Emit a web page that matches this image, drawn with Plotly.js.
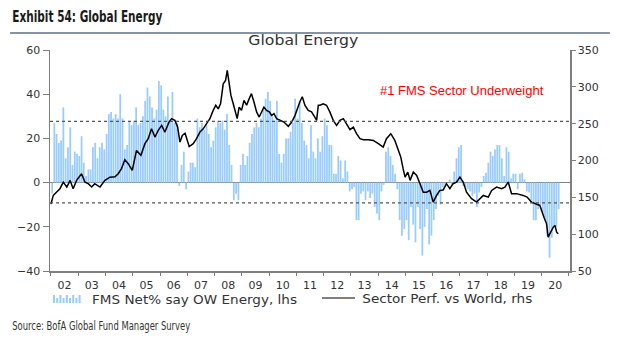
<!DOCTYPE html>
<html><head><meta charset="utf-8">
<script src="https://cdn.plot.ly/plotly-3.0.1.min.js"></script>
<style>html,body{margin:0;padding:0;background:#fff}#chart{width:619px;height:339px}</style>
</head><body><div id="chart"></div>
<script>
// FMS Net % say overweight Energy (lhs), monthly from Jan 2002
const fmsStartYear = 2002;
const fmsNet = [
  -5, 27, 22, 18, 19, 34, 11, 16, 25, 8, 14, 13,      // 2002
  12, 21, 9, 3, 6, 6, 16, 18, 11, 16, 18, 15,          // 2003
  22, 31, 32, 29, 31, 29, 40, 29, 15, 17, 28, 26,      // 2004
  28, 34, 26, 27, 30, 37, 43, 39, 34, 29, 33, 46,      // 2005
  44, 33, 30, 39, 28, 41, 27, 27, -1.5, 8, 14, -3,     // 2006
  5, 9, 9, 7, 29, 25, 27, 24, 26, 22, 16, 19,          // 2007
  25, 28, 27, 28, 24, 31, 17, 8, -8, -5, -8, 8,        // 2008
  13, 8, 12, 18, 22, 25, 27, 25, 29, 33, 38, 41,       // 2009
  37, 30, 28, 37, 13, 9, 13, 20, 20, 23, 27, 38,       // 2010
  29, 37, 27, 19, 17, 11, 26, 14, 11, 20, 14, 21,      // 2011
  29, 26, 17, 17, 4, 4, 12, 10, 2, 10, 5, -4,          // 2012
  -3, -2, -17, -17, -5, -4, -8, -4, -7, -5, -11, -14,  // 2013
  -17, -4, -1, 14, 16, 12, 8, 4, -3, -17, -24, -21,    // 2014
  -17, -26, -11, -19, -27, -11, -21, -33, -20, -12, -28, -24, // 2015
  -17, -12, -6, -10, -2, -1, 0, 1.5, -1, 5, 11, 16,    // 2016
  17, -1.5, -2, -3, -4, -6, -5, -11, -4.5, -2, 3, 4.5, // 2017
  9, 14, 12, 15, 17, 17, 11, 3, 16, 14, 2, 4,          // 2018
  4, -3, 4, 4.5, 1.5, -4, -4.5, -8, -17, -17, -12, -10,// 2019
  -14, -17, -24, -34, -25, -20, -20, -12               // 2020
];

// Sector performance vs World (rhs)
const perfDates = ['2002-01-01','2002-02-01','2002-03-15','2002-05-01','2002-06-15','2002-08-01','2002-09-15','2002-10-25','2002-12-10',
'2003-02-15','2003-04-01','2003-05-15','2003-07-01','2003-08-10','2003-10-20','2003-12-25',
'2004-03-01','2004-05-08','2004-06-20','2004-08-03','2004-09-17','2004-11-01','2004-12-25',
'2005-02-20','2005-04-20','2005-06-13','2005-07-27','2005-09-09','2005-10-25','2005-12-08',
'2006-01-23','2006-03-08','2006-05-01','2006-06-05','2006-07-19','2006-08-25','2006-09-25','2006-10-27','2006-12-03',
'2007-01-27','2007-03-22','2007-05-05','2007-06-20','2007-08-03','2007-09-17','2007-10-31','2007-12-14',
'2008-01-18','2008-02-20','2008-03-22','2008-04-27','2008-05-28','2008-06-20','2008-07-17','2008-08-08','2008-09-08','2008-10-09','2008-10-31','2008-11-26','2008-12-28',
'2009-01-30','2009-03-06','2009-04-10','2009-05-10','2009-06-12','2009-07-18','2009-08-22','2009-09-24','2009-10-24','2009-11-28',
'2010-01-04','2010-02-05','2010-03-08','2010-04-12','2010-05-27','2010-07-19','2010-09-16','2010-11-01','2010-12-15',
'2011-01-15','2011-02-18','2011-03-22','2011-04-26','2011-06-10','2011-07-24','2011-09-06','2011-09-30','2011-10-23','2011-11-14','2011-12-28',
'2012-02-10','2012-03-25','2012-05-10','2012-06-24','2012-08-08','2012-09-22','2012-11-05','2012-12-20',
'2013-02-03','2013-03-18','2013-05-03','2013-06-17','2013-08-23','2013-10-29',
'2014-01-04','2014-03-10','2014-04-23','2014-06-20','2014-08-13','2014-09-27','2014-11-01','2014-12-02','2014-12-28',
'2015-02-03','2015-03-05','2015-04-18','2015-06-02','2015-07-16','2015-08-29','2015-10-13','2015-11-26',
'2016-01-09','2016-02-23','2016-04-08','2016-05-22','2016-07-05','2016-08-19','2016-10-02','2016-11-16',
'2017-01-01','2017-02-14','2017-03-31','2017-06-06','2017-08-13','2017-09-27','2017-11-10',
'2018-01-16','2018-03-02','2018-05-08','2018-07-14','2018-08-27','2018-10-10','2018-11-24',
'2019-01-30','2019-04-28','2019-06-20','2019-08-18','2019-10-03','2019-12-08',
'2020-02-01','2020-03-07','2020-03-28','2020-05-01','2020-06-05','2020-06-28','2020-07-20','2020-08-10'];
const perfValues = [141,152.6,157,161.7,170.7,164,173,161.7,173,
182,170.7,168.5,164,168.5,164,173,
177.4,178,182,189,201,195.7,186.5,
213.7,207,222.8,229.6,243,231.8,240.9,
247.7,238.6,252,256.8,254.5,245.4,225,234,237,
219,222.8,229.6,238.6,243,250,256.8,268,
274.9,270,277,304,308.8,322.4,299.7,288.4,277,263.6,256.8,272.5,268,
281.7,275,284,290.7,279.8,266,259,266,272.5,268,
266,261.3,263.6,256.8,254.5,252.2,246.4,252.2,261.3,
270.4,279.8,286.6,275,268,266,259,254.5,275,275,277,
275,266,254.5,247.7,254.5,256.8,250,241.8,
245.4,236.4,229.6,228.2,228.2,227.3,
222.8,218.2,229.6,236.4,227.3,213.7,204.6,188.9,177.4,
184.2,173,184.2,179.8,168.5,157,157,159.4,
143.5,152.6,159.4,160,168.5,161.7,168.5,170.7,
177.4,170.7,157,148.1,143.5,148.1,152.6,
150.3,159.4,163.9,161.7,163.9,170.7,155,
155,152.6,150.3,143.5,141.3,139,
123,114,96,102.7,109.5,111.8,102.7,100.5];

// Reference levels (lhs) drawn as dotted lines
const bandLevels = [27.7, -9.2];

const titleText = 'Exhibit 54: Global Energy';
const chartTitle = 'Global Energy';
const noteText = '#1 FMS Sector Underweight';
const legendBar = 'FMS Net% say OW Energy, lhs';
const legendLine = 'Sector Perf. vs World, rhs';
const sourceText = 'Source: BofA Global Fund Manager Survey';

const fmsDates = fmsNet.map((v, i) => {
  const y = fmsStartYear + Math.floor(i / 12);
  const m = (i % 12) + 1;
  return y + '-' + String(m).padStart(2, '0') + '-01';
});

const tickFont = {family: 'DejaVu Sans, Arial, sans-serif', size: 11, color: '#333'};
const axisCol = '#7f7f7f';
const barCol = '#99CCFF';

const traces = [
  {type: 'bar', x: fmsDates, y: fmsNet, xperiod: 'M1', xperiodalignment: 'middle',
   marker: {color: barCol, line: {width: 0}}, yaxis: 'y', hoverinfo: 'skip', name: legendBar},
  {type: 'scatter', mode: 'lines', x: perfDates, y: perfValues, yaxis: 'y2',
   line: {color: '#000', width: 1.5}, hoverinfo: 'skip', name: legendLine}
];

// pixel -> paper helpers (plot area: x 50..570, y 50..271)
const px = v => (v - 50) / 520;
const py = v => (271 - v) / 221;

const shapes = bandLevels.map(l => ({type: 'line', xref: 'paper', yref: 'y', x0: 0, x1: 1, y0: l, y1: l,
  line: {color: '#555', width: 1.2, dash: 'dot'}, layer: 'above'}));
shapes.push({type: 'line', xref: 'paper', yref: 'paper', x0: px(10), x1: px(610), y0: py(33), y1: py(33),
  line: {color: '#5b6f8e', width: 1.5}});
// legend icons
for (let k = 0; k < 9; k++) {
  const x0 = 53 + k * 3.2;
  const h = (k % 2 === 0) ? 8 : 5;
  shapes.push({type: 'rect', xref: 'paper', yref: 'paper', x0: px(x0), x1: px(x0 + 2), y0: py(303), y1: py(303 - h),
    fillcolor: barCol, line: {width: 0}});
}
shapes.push({type: 'line', xref: 'paper', yref: 'paper', x0: px(322), x1: px(355), y0: py(298), y1: py(298),
  line: {color: '#000', width: 1.2}});

// target widths (px) for a few stretched / condensed texts
const textWidths = {};
textWidths[titleText] = 150;
textWidths[sourceText] = 178;
textWidths[legendBar] = 205;
textWidths[legendLine] = 170;
textWidths[chartTitle] = 110;

const condensed = 'DejaVu Sans Condensed, Liberation Sans Narrow, Arial Narrow, sans-serif';
const annotations = [
  {text: '<b>' + titleText + '</b>', xref: 'paper', yref: 'paper', x: px(12 + 75), y: py(17), xanchor: 'center', yanchor: 'middle',
   showarrow: false, font: {family: condensed, size: 15, color: '#1a1a1a'}},
  {text: chartTitle, xref: 'paper', yref: 'paper', x: px(303), y: py(40), xanchor: 'center', yanchor: 'middle',
   showarrow: false, font: {family: 'DejaVu Sans, Arial, sans-serif', size: 13.5, color: '#333'}},
  {text: noteText, xref: 'paper', yref: 'paper', x: px(462), y: py(90), xanchor: 'center', yanchor: 'middle',
   showarrow: false, font: {family: 'Liberation Sans, Arial, sans-serif', size: 13, color: '#ff0000'}},
  {text: legendBar, xref: 'paper', yref: 'paper', x: px(92 + 102.5), y: py(299), xanchor: 'center', yanchor: 'middle',
   showarrow: false, font: {family: 'DejaVu Sans, Arial, sans-serif', size: 12.5, color: '#333'}},
  {text: legendLine, xref: 'paper', yref: 'paper', x: px(362 + 85), y: py(298), xanchor: 'center', yanchor: 'middle',
   showarrow: false, font: {family: 'DejaVu Sans, Arial, sans-serif', size: 12.5, color: '#333'}},
  {text: sourceText, xref: 'paper', yref: 'paper', x: px(12 + 89), y: py(326), xanchor: 'center', yanchor: 'middle',
   showarrow: false, font: {family: condensed, size: 12, color: '#333'}}
];

const layout = {
  width: 619, height: 339,
  margin: {l: 50, r: 49, t: 50, b: 68, pad: 0},
  paper_bgcolor: '#fff', plot_bgcolor: '#fff',
  showlegend: false, bargap: 0.2,
  xaxis: {type: 'date', range: ['2001-12-19', '2021-01-15'], tick0: '2002-01-01', dtick: 'M12',
    tickformat: '%y', ticklabelmode: 'period', ticks: 'outside', ticklen: 3, tickcolor: axisCol,
    showline: true, linecolor: axisCol, linewidth: 1.5, showgrid: false, zeroline: false, tickfont: tickFont},
  yaxis: {range: [-40, 60], dtick: 20, ticks: 'outside', ticklen: 6, tickcolor: axisCol,
    showline: true, linecolor: axisCol, linewidth: 1.5, showgrid: false,
    zeroline: true, zerolinecolor: '#808080', zerolinewidth: 1, tickfont: tickFont},
  yaxis2: {overlaying: 'y', side: 'right', range: [50, 350], dtick: 50, ticks: 'outside', ticklen: 4, tickcolor: axisCol,
    showline: true, linecolor: axisCol, linewidth: 1.5, showgrid: false, zeroline: false, tickfont: tickFont},
  shapes: shapes, annotations: annotations
};

Plotly.newPlot('chart', traces, layout, {displayModeBar: false, staticPlot: true}).then(gd => {
  gd.querySelectorAll('text.annotation-text').forEach(t => {
    const w = textWidths[t.textContent];
    if (w) {
      t.setAttribute('textLength', w);
      t.setAttribute('lengthAdjust', 'spacingAndGlyphs');
    }
  });
});
</script></body></html>
